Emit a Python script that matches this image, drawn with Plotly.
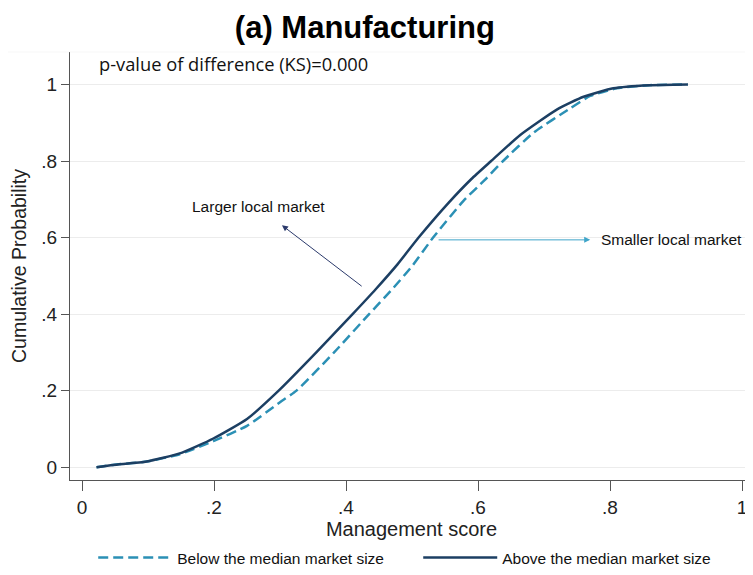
import plotly.graph_objects as go

# CDF of management score
above_x = [0.022, 0.047, 0.098, 0.148, 0.199, 0.25, 0.298, 0.355, 0.41, 0.445, 0.478,
           0.51, 0.555, 0.59, 0.62, 0.664, 0.72, 0.76, 0.805, 0.86, 0.918]
above_y = [0.0, 0.006, 0.015, 0.036, 0.075, 0.126, 0.2, 0.3, 0.4, 0.465, 0.53,
           0.6, 0.69, 0.753, 0.8, 0.868, 0.935, 0.968, 0.99, 0.998, 1.0]

below_x = [0.022, 0.047, 0.098, 0.148, 0.199, 0.25, 0.30, 0.325, 0.382, 0.435, 0.47,
           0.4995, 0.532, 0.578, 0.61, 0.638, 0.684, 0.74, 0.77, 0.81, 0.86, 0.918]
below_y = [0.0, 0.006, 0.015, 0.034, 0.068, 0.108, 0.17, 0.2, 0.3, 0.4, 0.465,
           0.524, 0.6, 0.696, 0.75, 0.8, 0.874, 0.938, 0.97, 0.99, 0.998, 1.0]

tick_vals = [0, 0.2, 0.4, 0.6, 0.8, 1]
tick_text = ["0", ".2", ".4", ".6", ".8", "1"]

navy = "#1c3f63"
teal = "#2b90b5"
font = "Liberation Sans, Arial, sans-serif"

fig = go.Figure()
fig.add_trace(go.Scatter(x=below_x, y=below_y, mode="lines",
                         name="Below the median market size",
                         line=dict(color=teal, width=2.5, dash="10px,5px", shape="spline", smoothing=0.5)))
fig.add_trace(go.Scatter(x=above_x, y=above_y, mode="lines",
                         name="Above the median market size",
                         line=dict(color=navy, width=2.5, shape="spline", smoothing=0.5)))

# arrows + labels
fig.add_annotation(x=0.303, y=0.632, ax=0.426, ay=0.470, xref="x", yref="y", axref="x", ayref="y",
                   text="", showarrow=True, arrowhead=2, arrowsize=1.2, arrowwidth=1, arrowcolor="#2b3a6b")
fig.add_annotation(x=0.267, y=0.68, xref="x", yref="y", text="Larger local market",
                   showarrow=False, font=dict(family=font, size=15.5, color="#111"))
fig.add_annotation(x=0.770, y=0.594, ax=0.538, ay=0.594, xref="x", yref="y", axref="x", ayref="y",
                   text="", showarrow=True, arrowhead=2, arrowsize=1.2, arrowwidth=1, arrowcolor="#3fa5c9")
fig.add_annotation(x=0.783, y=0.594, xref="x", yref="y", text="Smaller local market",
                   xanchor="left", showarrow=False, font=dict(family=font, size=15.5, color="#111"))

fig.add_annotation(x=0.0227, y=1.054, xref="x", yref="y", xanchor="left", yanchor="middle",
                   text="p-value of difference (KS)=0.000", showarrow=False,
                   font=dict(family="Open Sans, sans-serif", size=18.3, color="#111"))

# faint border above plot region
fig.add_shape(type="line", xref="paper", yref="paper", x0=-0.0908, x1=1.0, y0=1, y1=1,
              line=dict(color="#e6e6e6", width=1))

# page body adds an 8px offset, so the figure is 8px smaller than the window
fig.update_layout(
    width=745, height=567,
    template="simple_white",
    margin=dict(l=62, r=0, t=44, b=88),
    plot_bgcolor="white", paper_bgcolor="white",
    title=dict(text="<b>(a) Manufacturing</b>", x=0.479, xref="container", xanchor="center",
               y=0.966, yref="container", yanchor="middle",
               font=dict(family=font, size=31, color="#000")),
    font=dict(family=font, color="#222"),
    legend=dict(orientation="h", x=0.034, y=-0.182, yanchor="middle", xanchor="left",
                itemwidth=74, entrywidth=236, entrywidthmode="pixels",
                font=dict(family=font, size=15.5, color="#111")),
)

fig.update_xaxes(range=[-0.01818, 1.01667], tickvals=tick_vals, ticktext=tick_text,
                 showline=True, linecolor="#555", linewidth=1, mirror=False, automargin=False,
                 ticks="outside", ticklen=10, tickcolor="#555",
                 tickfont=dict(size=19, color="#222"), showgrid=False, zeroline=False,
                 title=dict(text="Management score", standoff=2, font=dict(size=20, color="#222")))
fig.update_yaxes(range=[-0.0334, 1.0848], tickvals=tick_vals, ticktext=tick_text,
                 showline=True, linecolor="#555", linewidth=1, mirror=False, automargin=False,
                 ticks="outside", ticklen=8, tickcolor="#555",
                 tickfont=dict(size=19, color="#222"), showgrid=True, gridcolor="#ececec",
                 gridwidth=1, zeroline=False,
                 title=dict(text="Cumulative Probability", standoff=20, font=dict(size=19.5, color="#222")))

fig.write_html("out.html")
